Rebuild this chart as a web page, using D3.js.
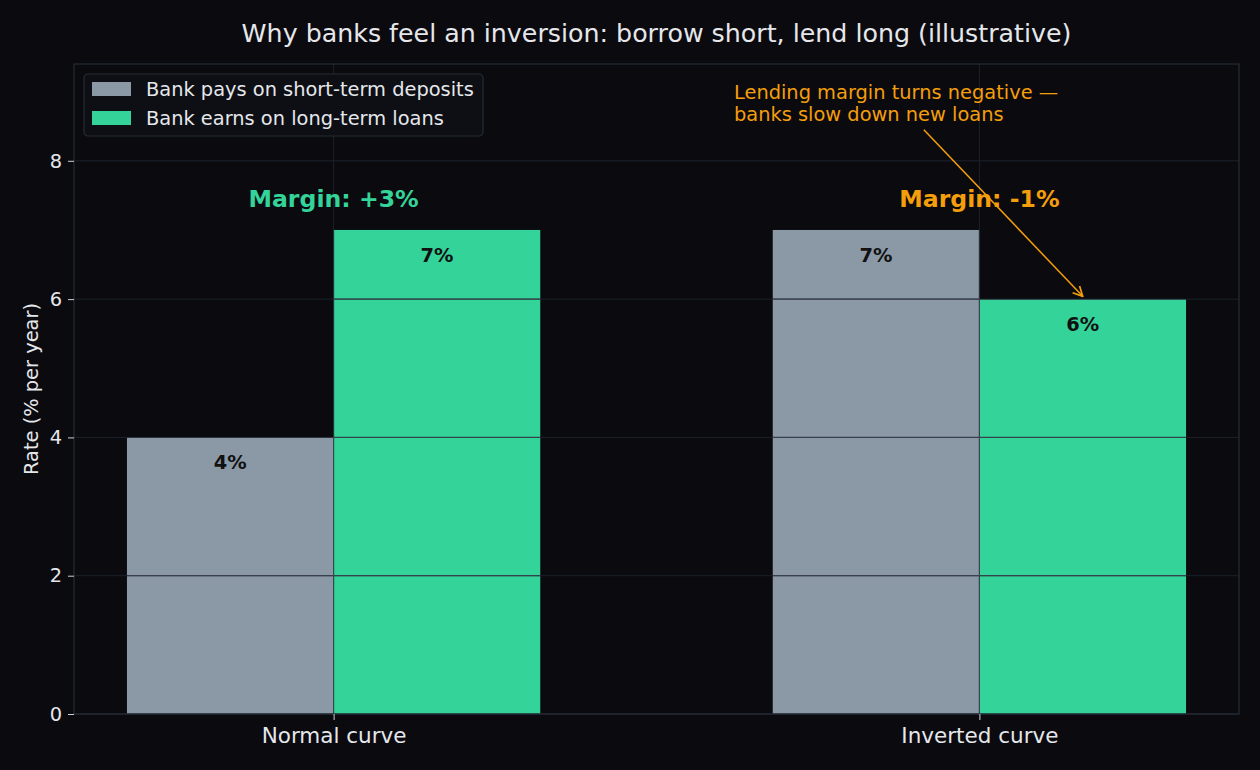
<!DOCTYPE html>
<html lang="en">
<head>
<meta charset="UTF-8">
<title>Borrow short, lend long</title>
<script src="https://cdn.jsdelivr.net/npm/d3@7"></script>
<style>
  html, body { margin: 0; padding: 0; background: #0a0a0f; }
  svg { display: block; font-family: "DejaVu Sans", sans-serif; }
</style>
</head>
<body>
<svg id="chart" width="1260" height="770"></svg>
<script>
// data
const categories = ["Normal curve", "Inverted curve"];
const seriesNames = ["Bank pays on short-term deposits", "Bank earns on long-term loans"];
const deposits = [4, 7];
const loans = [7, 6];
const margins = ["Margin: +3%", "Margin: -1%"];
const yTicks = [0, 2, 4, 6, 8];

const W = 1260, H = 770;
const plot = {left: 74, right: 1239, top: 64, bottom: 714};
const barW = 0.32;

const colors = {
  bg: "#0a0a0f",
  grid: "#1c222b",
  spine: "#252d37",
  text: "#e5e7eb",
  deposits: "#8b98a5",
  loans: "#34d399",
  orange: "#f59e0b"
};

const svg = d3.select("#chart");
svg.append("rect").attr("width", W).attr("height", H).attr("fill", colors.bg);

// x in category units, like a bar chart with offset bars
const x = d3.scaleLinear()
  .domain([-barW - 0.082, categories.length - 1 + barW + 0.082])
  .range([plot.left, plot.right]);
const y = d3.scaleLinear().domain([0, 9.4]).range([plot.bottom, plot.top]);

const g = svg.append("g");

// bars
const series = [
  {name: seriesNames[0], values: deposits, color: colors.deposits, off: -barW},
  {name: seriesNames[1], values: loans, color: colors.loans, off: 0}
];
series.forEach(s => {
  g.selectAll(null).data(s.values).enter().append("rect")
    .attr("x", (d, i) => x(i + s.off))
    .attr("width", x(barW) - x(0))
    .attr("y", d => y(d))
    .attr("height", d => y(0) - y(d))
    .attr("fill", s.color);
});

const clip = svg.append("clipPath").attr("id", "barclip");
series.forEach(s => {
  clip.selectAll(null).data(s.values).enter().append("rect")
    .attr("x", (d, i) => x(i + s.off))
    .attr("width", x(barW) - x(0))
    .attr("y", d => y(d))
    .attr("height", d => y(0) - y(d));
});

// grid over the bars (matplotlib style)
g.selectAll(null).data(yTicks).enter().append("line")
  .attr("x1", plot.left).attr("x2", plot.right)
  .attr("y1", d => y(d)).attr("y2", d => y(d))
  .attr("stroke", colors.grid).attr("stroke-width", 1);
g.selectAll(null).data(categories).enter().append("line")
  .attr("x1", (d, i) => x(i)).attr("x2", (d, i) => x(i))
  .attr("y1", plot.top).attr("y2", plot.bottom)
  .attr("stroke", colors.grid).attr("stroke-width", 1);
// the same grid reads darker-grey where it crosses a bar
g.selectAll(null).data(yTicks.slice(1)).enter().append("line")
  .attr("x1", plot.left).attr("x2", plot.right)
  .attr("y1", d => y(d)).attr("y2", d => y(d))
  .attr("stroke", "#3a4350").attr("stroke-width", 1)
  .attr("clip-path", "url(#barclip)");
g.selectAll(null).data(categories).enter().append("line")
  .attr("x1", (d, i) => x(i)).attr("x2", (d, i) => x(i))
  .attr("y1", plot.top).attr("y2", plot.bottom)
  .attr("stroke", "#3a4a50").attr("stroke-width", 1)
  .attr("clip-path", "url(#barclip)");

// spines
svg.append("rect")
  .attr("x", plot.left).attr("y", plot.top)
  .attr("width", plot.right - plot.left).attr("height", plot.bottom - plot.top)
  .attr("fill", "none").attr("stroke", colors.spine).attr("stroke-width", 1.2);

// axes
const yAxis = svg.append("g")
  .attr("transform", `translate(${plot.left},0)`)
  .call(d3.axisLeft(y).tickValues(yTicks).tickSize(6).tickPadding(6));
const xAxis = svg.append("g")
  .attr("transform", `translate(0,${plot.bottom})`)
  .call(d3.axisBottom(x).tickValues(d3.range(categories.length))
    .tickFormat(i => categories[i]).tickSize(6).tickPadding(8));
[yAxis, xAxis].forEach(a => {
  a.select(".domain").remove();
  a.selectAll(".tick line").attr("stroke", "#cbd0d8");
  a.selectAll(".tick text").attr("fill", colors.text)
    .attr("font-size", 19.4).attr("font-family", "DejaVu Sans");
});
xAxis.selectAll(".tick text").attr("font-size", 21.5);

// value labels inside bars
series.forEach(s => {
  g.selectAll(null).data(s.values).enter().append("text")
    .attr("x", (d, i) => x(i + s.off + barW / 2))
    .attr("y", d => y(d - 0.36))
    .attr("dy", "0.35em")
    .attr("text-anchor", "middle")
    .attr("font-size", 19.4).attr("font-weight", "bold")
    .attr("fill", "#111111")
    .text(d => d + "%");
});

// margin labels
svg.selectAll(null).data(margins).enter().append("text")
  .attr("x", (d, i) => x(i))
  .attr("y", y(7.45))
  .attr("dy", "0.35em")
  .attr("text-anchor", "middle")
  .attr("font-size", 23.6).attr("font-weight", "bold")
  .attr("fill", (d, i) => i === 0 ? colors.loans : colors.orange)
  .text(d => d);

// annotation
svg.append("defs").append("marker")
  .attr("id", "arrow").attr("viewBox", "0 0 10 10")
  .attr("refX", 9).attr("refY", 5)
  .attr("markerWidth", 12).attr("markerHeight", 12)
  .attr("markerUnits", "userSpaceOnUse")
  .attr("orient", "auto")
  .append("path").attr("d", "M1,1 L9,5 L1,9")
  .attr("fill", "none").attr("stroke", colors.orange).attr("stroke-width", 1.4);

svg.append("line")
  .attr("x1", x(0.914)).attr("y1", y(8.45))
  .attr("x2", x(1 + barW / 2)).attr("y2", y(6.04))
  .attr("stroke", colors.orange).attr("stroke-width", 1.5)
  .attr("marker-end", "url(#arrow)");

const note = svg.append("text")
  .attr("x", x(0.62)).attr("y", y(8.9))
  .attr("font-size", 19.4).attr("fill", colors.orange);
note.append("tspan").attr("x", x(0.62)).attr("dy", 0).text("Lending margin turns negative \u2014");
note.append("tspan").attr("x", x(0.62)).attr("dy", 22.5).text("banks slow down new loans");

// legend
const lg = svg.append("g").attr("transform", `translate(${plot.left + 10},${plot.top + 10})`);
lg.append("rect").attr("width", 399).attr("height", 62).attr("rx", 4)
  .attr("fill", "#0d0f14").attr("stroke", "#252d37").attr("stroke-width", 1.2);
series.forEach((s, i) => {
  const row = lg.append("g").attr("transform", `translate(8,${8 + i * 29})`);
  row.append("rect").attr("width", 39).attr("height", 14).attr("fill", s.color);
  row.append("text").attr("x", 54).attr("y", 7).attr("dy", "0.35em")
    .attr("font-size", 19.4).attr("fill", colors.text).text(s.name);
});

// title and y label
svg.append("text")
  .attr("x", (plot.left + plot.right) / 2).attr("y", 33)
  .attr("dy", "0.35em").attr("text-anchor", "middle")
  .attr("font-size", 25.3).attr("fill", colors.text)
  .text("Why banks feel an inversion: borrow short, lend long (illustrative)");
svg.append("text")
  .attr("transform", `translate(31,${(plot.top + plot.bottom) / 2}) rotate(-90)`)
  .attr("dy", "0.35em").attr("text-anchor", "middle")
  .attr("font-size", 19.4).attr("fill", colors.text)
  .text("Rate (% per year)");
</script>
</body>
</html>
